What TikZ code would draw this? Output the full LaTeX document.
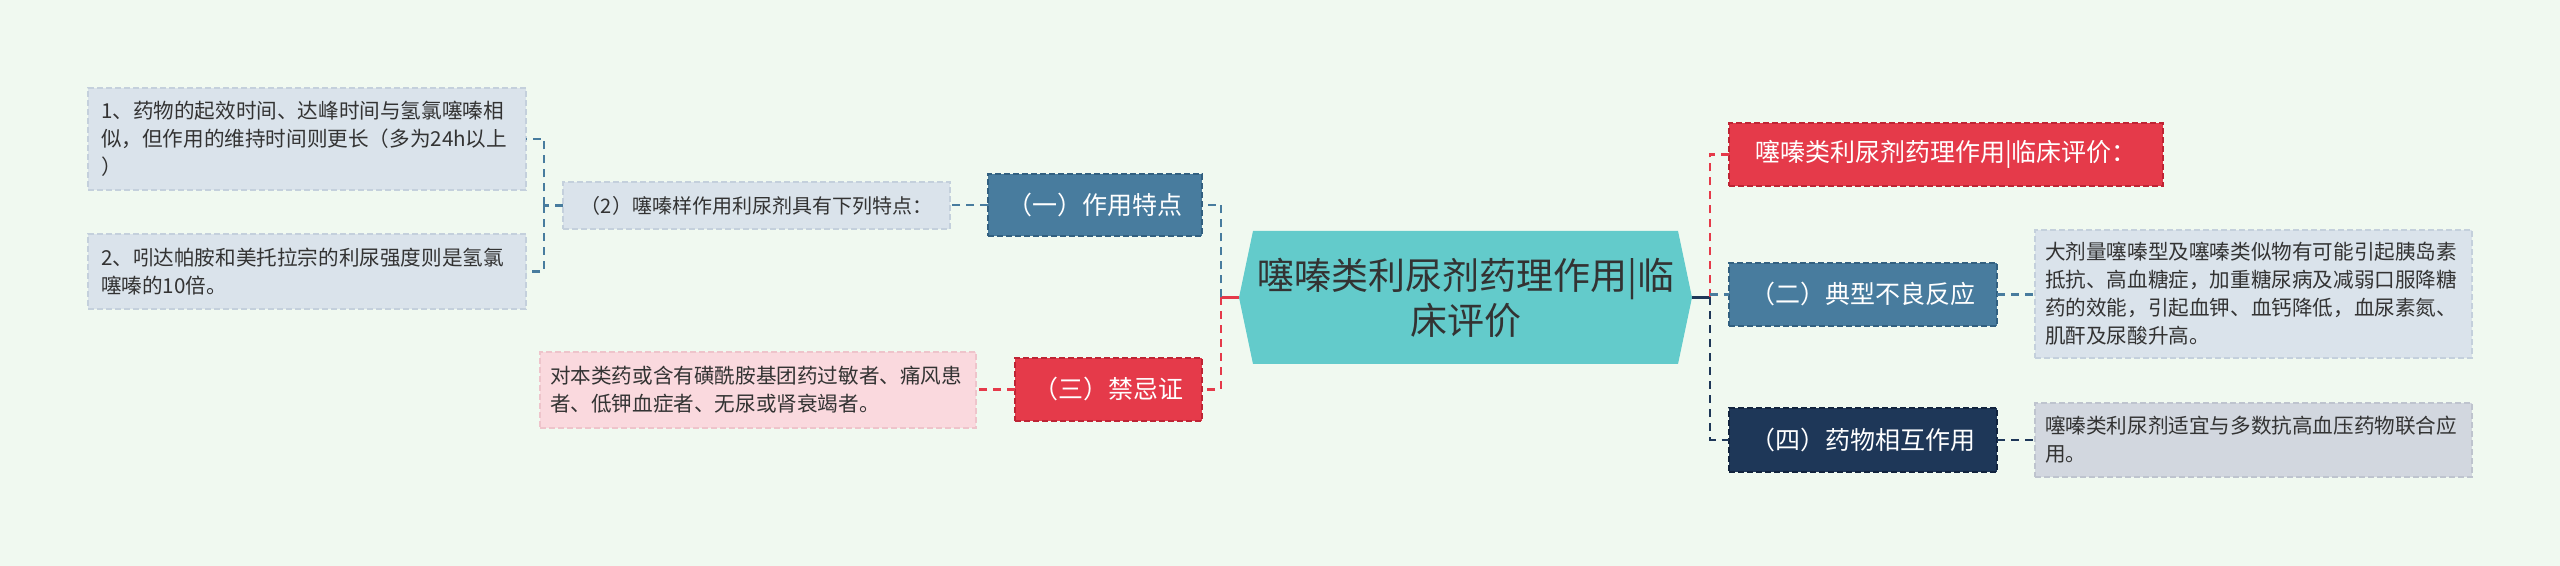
\documentclass[tikz,border=0pt]{standalone}
\usepackage{fontspec}
\setmainfont{Noto Sans CJK SC}
\usetikzlibrary{backgrounds}
\definecolor{bgc}{RGB}{240,249,240}
\definecolor{leafc}{RGB}{218,227,235}
\definecolor{leafb}{RGB}{196,208,220}
\definecolor{bluec}{RGB}{72,124,158}
\definecolor{blueb}{RGB}{50,96,128}
\definecolor{redc}{RGB}{229,58,74}
\definecolor{redb}{RGB}{190,36,52}
\definecolor{navyc}{RGB}{30,55,88}
\definecolor{navyb}{RGB}{18,36,62}
\definecolor{pinkc}{RGB}{250,217,222}
\definecolor{pinkb}{RGB}{238,196,203}
\definecolor{greyc}{RGB}{210,215,223}
\definecolor{greyb}{RGB}{190,196,206}
\definecolor{tealc}{RGB}{99,203,203}
\definecolor{txt}{RGB}{51,51,51}
\tikzset{
  box/.style={draw, line width=0.75pt, dash pattern=on 3pt off 1.5pt, inner sep=0pt, outer sep=0pt},
  leaf/.style={box, align=left, inner xsep=#1, text=txt, font=\fontsize{10.3}{14}\selectfont},
  cat/.style={box, text=white, align=center, font=\fontsize{12.5}{15}\selectfont},
  link/.style={line width=1.4pt, dash pattern=on 4pt off 3pt},
  stem/.style={line width=1.4pt},
}
\begin{document}
\begin{tikzpicture}[x=0.5pt,y=-0.5pt]
\useasboundingbox (0,0) rectangle (2560,566);
\begin{pgfonlayer}{background}
\fill[bgc] (0,0) rectangle (2560,566);
\end{pgfonlayer}

% root
\node[inner sep=0pt, outer sep=0pt, minimum width=226.5pt, minimum height=66.5pt, align=center, text=txt,
      font=\fontsize{18.5}{22.5}\selectfont] (root) at (1465.5,297.5) {噻嗪类利尿剂药理作用|临\\床评价};
\begin{pgfonlayer}{background}
\fill[tealc] (root.west) -- ([xshift=7pt]root.north west) -- ([xshift=-7pt]root.north east) -- (root.east)
  -- ([xshift=-7pt]root.south east) -- ([xshift=7pt]root.south west) -- cycle;
\end{pgfonlayer}

% left branch
\node[cat, fill=bluec, draw=blueb, minimum width=107pt, minimum height=31pt] (c1) at (1095,205) {（一）作用特点};
\node[box, fill=leafc, draw=leafb, minimum width=193.5pt, minimum height=23.5pt, text=txt,
      font=\fontsize{10}{12}\selectfont] (n2) at (756.5,205.5) {（2）噻嗪样作用利尿剂具有下列特点：};
\node[leaf=6.5pt, fill=leafc, draw=leafb, text width=206pt, minimum height=51pt] (leaf1) at (307,139)
  {1、药物的起效时间、达峰时间与氢氯噻嗪相\\似，但作用的维持时间则更长（多为24h以上\\）};
\node[leaf=6.5pt, fill=leafc, draw=leafb, text width=206pt, minimum height=37.5pt] (leaf2) at (307,271.5)
  {2、吲达帕胺和美托拉宗的利尿强度则是氢氯\\噻嗪的10倍。};
\node[cat, fill=redc, draw=redb, minimum width=93.5pt, minimum height=31.5pt] (c3) at (1108.5,389.5) {（三）禁忌证};
\node[leaf=5pt, fill=pinkc, draw=pinkb, text width=208pt, minimum height=38pt] (pink) at (758,390)
  {对本类药或含有磺酰胺基团药过敏者、痛风患\\者、低钾血症者、无尿或肾衰竭者。};

% right branch
\node[cat, fill=redc, draw=redb, minimum width=217pt, minimum height=31.5pt] (rt) at (1946,154.5) {噻嗪类利尿剂药理作用|临床评价：};
\node[cat, fill=bluec, draw=blueb, minimum width=134pt, minimum height=31.5pt] (c2) at (1863,294.5) {（二）典型不良反应};
\node[leaf=5pt, fill=leafc, draw=leafb, text width=208.5pt, minimum height=64pt] (g1) at (2253.5,294)
  {大剂量噻嗪型及噻嗪类似物有可能引起胰岛素\\抵抗、高血糖症，加重糖尿病及减弱口服降糖\\药的效能，引起血钾、血钙降低，血尿素氮、\\肌酐及尿酸升高。};
\node[cat, fill=navyc, draw=navyb, minimum width=134pt, minimum height=32pt] (c4) at (1863,440) {（四）药物相互作用};
\node[leaf=5pt, fill=greyc, draw=greyb, text width=208.5pt, minimum height=37pt] (g2) at (2253.5,440)
  {噻嗪类利尿剂适宜与多数抗高血压药物联合应\\用。};

% junctions
\coordinate (lj) at (1221,297.5);
\coordinate (rj) at (1710,297.5);
\coordinate (lt) at (544,205.5);

% connectors
\draw[stem, redc] (root.west) -- (lj);
\draw[stem, navyc] (root.east) -- (rj);
\draw[link, bluec] (lj) |- (c1.east);
\draw[link, redc] (lj) |- (c3.east);
\draw[link, redc] (rj) |- (rt.west);
\draw[link, bluec] (c2.west -| rj) -- (c2.west);
\draw[link, navyc] (rj) |- (c4.west);
\draw[link, bluec] (c1.west) -- (c1.west -| n2.east);
\draw[link, bluec] (n2.west) -- (lt);
\draw[link, bluec] (lt) |- (leaf1.east);
\draw[link, bluec] (lt) |- (leaf2.east);
\draw[link, redc] (c3.west) -- (c3.west -| pink.east);
\draw[link, bluec] (c2.east) -- (c2.east -| g1.west);
\draw[link, navyc] (c4.east) -- (g2.west);
\end{tikzpicture}
\end{document}
